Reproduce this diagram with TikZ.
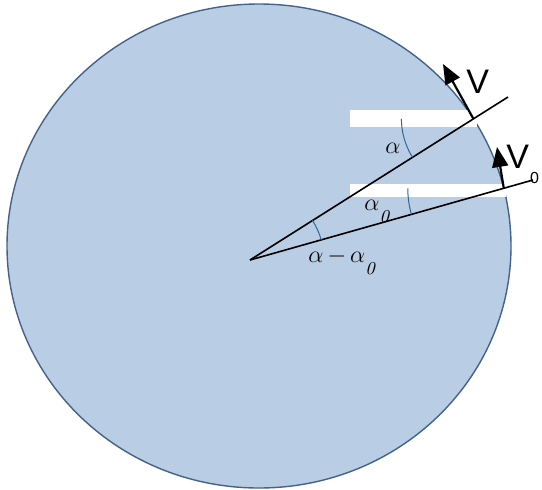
\documentclass[tikz,border=0pt]{standalone}
\usepackage{fontspec}
\usetikzlibrary{arrows.meta}
\newfontfamily\vfont{Liberation Sans}
\definecolor{discfill}{RGB}{185,205,228}
\definecolor{discline}{RGB}{68,98,138}
\definecolor{arcblue}{RGB}{50,100,160}
\newcommand{\subo}{\raisebox{-1.1ex}{$\scriptstyle\mathit{0}$}}

\begin{document}
\begin{tikzpicture}[x=0.5pt, y=0.5pt,
  ray/.style={line width=0.8pt},
  vel/.style={-{Triangle[length=10pt,width=8pt]}, line width=1.1pt},
  ang/.style={draw=arcblue, line width=0.5pt},
  lbl/.style={inner sep=0pt, anchor=base west, font=\fontsize{13}{15}\selectfont},
  vlbl/.style={inner sep=0pt, anchor=base west, font=\vfont\fontsize{17}{19}\selectfont}]
  \useasboundingbox (0,0) rectangle (542,-489);
  % disc
  \coordinate (C) at (259,-246);
  \filldraw[fill=discfill, draw=discline, line width=0.7pt] (C) ellipse[x radius=252, y radius=242];
  % white strips
  \fill[white] (350,-110) rectangle (477,-127);
  \fill[white] (350,-184) rectangle (506,-197);
  % rays
  \coordinate (O) at (250,-260);
  \coordinate (A) at (508,-97);
  \coordinate (B) at (533,-180);
  \coordinate (P) at (473.4,-118.8);
  \coordinate (Q) at (503.8,-188.3);
  \draw[ray] (O) -- (A);
  \draw[ray] (O) -- (B);
  % angle marks
  \draw[ang] (P) ++(180:72) arc[start angle=180, end angle=212.3, radius=72];
  \draw[ang] (Q) ++(180:96) arc[start angle=180, end angle=195.8, radius=96];
  \draw[ang] (O) ++(15.8:74) arc[start angle=15.8, end angle=32.3, radius=74];
  % velocities
  \coordinate (Vend) at (443,-64);
  \coordinate (V0end) at (497,-147);
  \draw[vel] (P) -- (Vend);
  \draw[vel] (Q) -- (V0end);
  % labels
  \node[vlbl] (vlab) at (466,-93) {V};
  \node[vlbl] (v0lab) at (506,-168) {V\hspace{0.5pt}\raisebox{-7.5pt}{\fontsize{8}{8}\selectfont 0}};
  \node[lbl] (alab) at (385,-153) {$\alpha$};
  \node[lbl] (a0lab) at (364,-210) {$\alpha\subo$};
  \node[lbl] (dlab) at (308,-262) {$\alpha\,{-}\,\alpha\subo$};
\end{tikzpicture}
\end{document}
